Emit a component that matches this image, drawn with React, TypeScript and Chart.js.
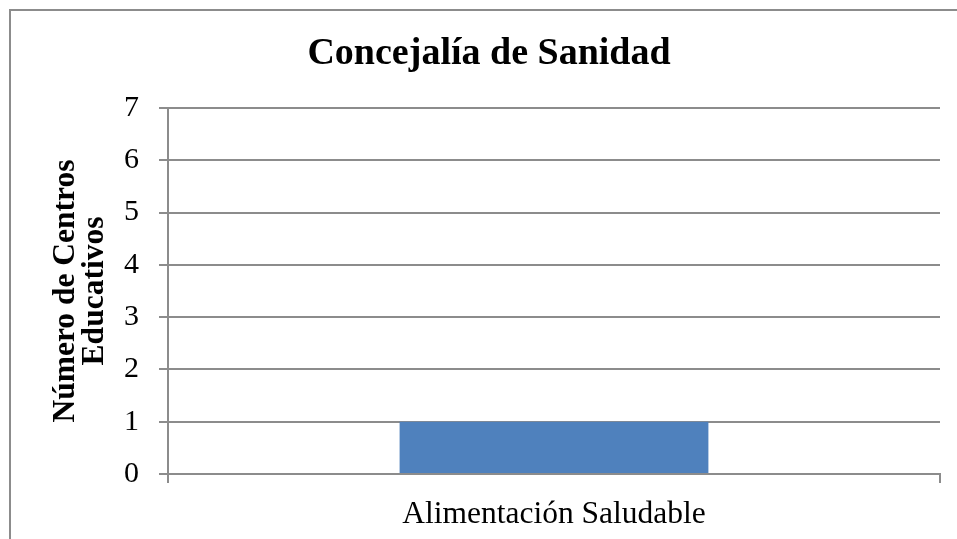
import React, { useEffect, useRef } from "react";
import { Chart, registerables } from "chart.js";

Chart.register(...registerables);

const categories = ["Alimentación Saludable"];
const values = [1];
const yMin = 0;
const yMax = 7;
const yStep = 1;
const chartTitle = "Concejalía de Sanidad";
const yAxisTitle = ["Número de Centros", "Educativos"];

const FONT = "'Liberation Serif', 'Times New Roman', serif";
const GRID = "#8c8c8c";

const borderPlugin = {
  id: "outerBorder",
  beforeDraw(chart: any) {
    const { ctx, width, height } = chart;
    ctx.save();
    ctx.fillStyle = "#ffffff";
    ctx.fillRect(0, 0, width, height);
    ctx.strokeStyle = GRID;
    ctx.lineWidth = 2;
    ctx.strokeRect(10, 10, width + 20, height + 20);
    ctx.restore();
  },
  afterDraw(chart: any) {
    const { ctx } = chart;
    ctx.save();
    ctx.fillStyle = "#000";
    ctx.font = `bold 38px ${FONT}`;
    ctx.textAlign = "center";
    ctx.textBaseline = "middle";
    ctx.fillText(chartTitle, 489, 54);
    ctx.restore();
  },
};

export default function App() {
  const ref = useRef<HTMLCanvasElement | null>(null);
  useEffect(() => {
    if (!ref.current) return;
    const chart = new Chart(ref.current, {
      type: "bar",
      data: {
        labels: categories,
        datasets: [
          {
            data: values,
            backgroundColor: "#4f81bd",
            borderWidth: 0,
            categoryPercentage: 1,
            barPercentage: 0.4,
          },
        ],
      },
      options: {
        animation: false,
        responsive: false,
        devicePixelRatio: 1,
        layout: { padding: { left: 0, right: 17, top: 108, bottom: 0 } },
        plugins: {
          legend: { display: false },
          tooltip: { enabled: false },
          title: { display: false },
        },
        scales: {
          x: {
            afterFit: (s: any) => {
              s.height = 65;
            },
            grid: {
              display: true,
              offset: true,
              drawOnChartArea: false,
              drawTicks: true,
              tickLength: 9,
              color: GRID,
              lineWidth: 2,
            },
            border: { display: true, color: GRID, width: 2 },
            ticks: {
              color: "#000",
              font: { family: FONT, size: 31.5, lineHeight: 1.2 },
              padding: 13,
              maxRotation: 0,
            },
          },
          y: {
            min: yMin,
            max: yMax,
            afterFit: (s: any) => {
              s.width = 168;
            },
            grid: {
              display: true,
              drawOnChartArea: true,
              drawTicks: true,
              tickLength: 9,
              color: GRID,
              lineWidth: 2,
            },
            border: { display: true, color: GRID, width: 2 },
            ticks: {
              stepSize: yStep,
              color: "#000",
              font: { family: FONT, size: 30, lineHeight: 1.2 },
              padding: 20,
            },
            title: {
              display: true,
              text: yAxisTitle,
              color: "#000",
              font: { family: FONT, size: 31.5, weight: "bold", lineHeight: 0.92 },
              padding: { top: 51.5, bottom: 0 },
            },
          },
        },
      },
      plugins: [borderPlugin],
    });
    return () => chart.destroy();
  }, []);
  return (
    <div style={{ position: "fixed", left: 0, top: 0, width: 957, height: 539, background: "#fff" }}>
      <canvas ref={ref} width={957} height={539} style={{ display: "block" }} />
    </div>
  );
}
